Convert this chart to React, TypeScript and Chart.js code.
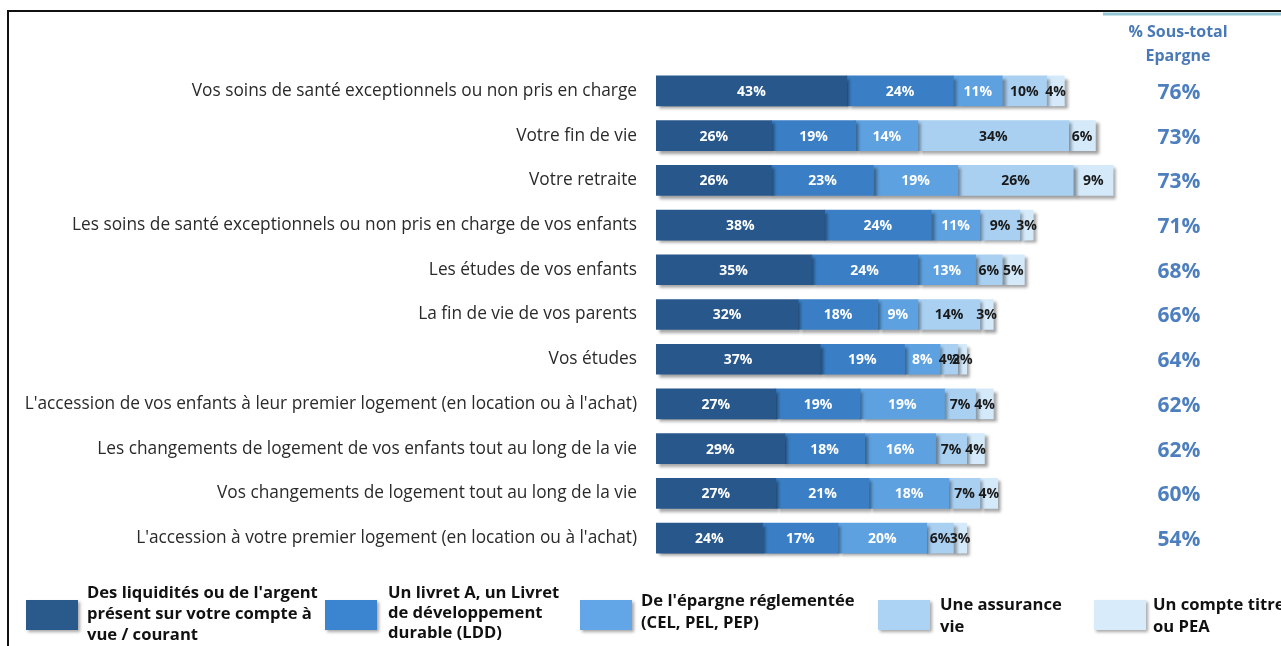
import React, { useEffect, useRef } from "react";
import { Chart, registerables } from "chart.js";

Chart.register(...registerables);

const categories = [
  "Vos soins de santé exceptionnels ou non pris en charge",
  "Votre fin de vie",
  "Votre retraite",
  "Les soins de santé exceptionnels ou non pris en charge de vos enfants",
  "Les études de vos enfants",
  "La fin de vie de vos parents",
  "Vos études",
  "L'accession de vos enfants à leur premier logement (en location ou à l'achat)",
  "Les changements de logement de vos enfants tout au long de la vie",
  "Vos changements de logement tout au long de la vie",
  "L'accession à votre premier logement (en location ou à l'achat)",
];

const liquidites = [43, 26, 26, 38, 35, 32, 37, 27, 29, 27, 24];
const livretA = [24, 19, 23, 24, 24, 18, 19, 19, 18, 21, 17];
const epargneReglementee = [11, 14, 19, 11, 13, 9, 8, 19, 16, 18, 20];
const assuranceVie = [10, 34, 26, 9, 6, 14, 4, 7, 7, 7, 6];
const compteTitre = [4, 6, 9, 3, 5, 3, 2, 4, 4, 4, 3];
const sousTotal = [76, 73, 73, 71, 68, 66, 64, 62, 62, 60, 54];

const headerLines = ["% Sous-total", "Epargne"];

const legendLabels = [
  ["Des liquidités ou de l'argent", "présent sur votre compte à", "vue / courant"],
  ["Un livret A, un Livret", "de développement", "durable (LDD)"],
  ["De l'épargne réglementée", "(CEL, PEL, PEP)"],
  ["Une assurance", "vie"],
  ["Un compte titre", "ou PEA"],
];

const seriesValues = [liquidites, livretA, epargneReglementee, assuranceVie, compteTitre];
const colors = ["#27578b", "#3a7fc6", "#5da1e0", "#a9cff1", "#d4e9fa"];
const legendColors = ["#2a5a8c", "#3b84cf", "#62a6e8", "#add3f4", "#d8ebfb"];
const labelColors = ["#ffffff", "#ffffff", "#ffffff", "#1a1a1a", "#1a1a1a"];

const FONT = "'Open Sans', Lato, sans-serif";

export default function App() {
  const ref = useRef<HTMLCanvasElement | null>(null);

  useEffect(() => {
    if (!ref.current) return;

    const decor = {
      id: "decor",
      beforeDatasetsDraw(chart: any) {
        const ctx = chart.ctx;
        ctx.save();
        ctx.shadowColor = "rgba(0,0,0,0.38)";
        ctx.shadowOffsetX = 3;
        ctx.shadowOffsetY = 3;
        ctx.shadowBlur = 3;
      },
      afterDatasetsDraw(chart: any) {
        const ctx = chart.ctx;
        ctx.restore();
        ctx.save();
        ctx.font = `bold 14px ${FONT}`;
        ctx.textAlign = "center";
        ctx.textBaseline = "middle";
        chart.data.datasets.forEach((ds: any, di: number) => {
          const meta = chart.getDatasetMeta(di);
          meta.data.forEach((el: any, i: number) => {
            const v = ds.data[i];
            const cx = (el.x + el.base) / 2;
            ctx.fillStyle = labelColors[di];
            ctx.fillText(`${v}%`, cx, el.y + 1);
          });
        });
        ctx.restore();
      },
      afterDraw(chart: any) {
        const ctx = chart.ctx;
        const yScale = chart.scales.y;
        ctx.save();
        // frame
        ctx.strokeStyle = "#111";
        ctx.lineWidth = 2;
        ctx.beginPath();
        ctx.moveTo(8, 646);
        ctx.lineTo(8, 11);
        ctx.lineTo(1281, 11);
        ctx.stroke();
        ctx.strokeStyle = "#93c6d3";
        ctx.lineWidth = 3;
        ctx.beginPath();
        ctx.moveTo(1103, 14);
        ctx.lineTo(1281, 14);
        ctx.stroke();
        // header
        ctx.fillStyle = "#4a7ab5";
        ctx.font = `bold 16px ${FONT}`;
        ctx.textAlign = "center";
        ctx.textBaseline = "middle";
        ctx.fillText(headerLines[0], 1178, 32);
        ctx.fillText(headerLines[1], 1178, 56);
        // sous-total values
        ctx.fillStyle = "#4d7fbf";
        ctx.font = `bold 21px ${FONT}`;
        sousTotal.forEach((v, i) => {
          ctx.fillText(`${v}%`, 1179, yScale.getPixelForValue(i) + 2);
        });
        // legend
        const sqX = [26, 325, 580, 878, 1094];
        const txX = [87, 388, 641, 940, 1153];
        const lineY: number[][] = [
          [593, 614, 635],
          [593, 613, 633],
          [601, 623],
          [605, 627],
          [605, 627],
        ];
        legendLabels.forEach((lines, k) => {
          ctx.save();
          ctx.shadowColor = "rgba(0,0,0,0.35)";
          ctx.shadowOffsetX = 2;
          ctx.shadowOffsetY = 2;
          ctx.shadowBlur = 3;
          ctx.fillStyle = legendColors[k];
          ctx.fillRect(sqX[k], 600, 52, 30);
          ctx.restore();
          ctx.fillStyle = "#111";
          ctx.font = `bold 16.6px ${FONT}`;
          ctx.textAlign = "left";
          ctx.textBaseline = "middle";
          lines.forEach((t, j) => ctx.fillText(t, txX[k], lineY[k][j]));
        });
        ctx.restore();
      },
    };

    const chart = new Chart(ref.current, {
      type: "bar",
      data: {
        labels: categories,
        datasets: seriesValues.map((vals, k) => ({
          label: legendLabels[k].join(" "),
          data: vals,
          backgroundColor: colors[k],
          borderWidth: 0,
          barThickness: 30,
        })),
      },
      options: {
        indexAxis: "y",
        animation: false,
        responsive: false,
        devicePixelRatio: 1,
        layout: { padding: { left: 0, right: 48, top: 68.6, bottom: 85.6 } },
        plugins: {
          legend: { display: false },
          tooltip: { enabled: false },
          title: { display: false },
        },
        scales: {
          x: {
            stacked: true,
            min: 0,
            max: 130,
            display: false,
          },
          y: {
            stacked: true,
            grid: { display: false, drawTicks: false },
            border: { display: false },
            ticks: {
              color: "#2a2a2a",
              font: { family: FONT, size: 17.3 },
              padding: 19,
              autoSkip: false,
            },
            afterFit(scale: any) {
              scale.width = 656;
            },
          },
        },
      },
      plugins: [decor],
    });
    return () => chart.destroy();
  }, []);

  return (
    <div style={{ position: "fixed", left: 0, top: 0, width: 1281, height: 646, background: "#fff" }}>
      <canvas ref={ref} width={1281} height={646} style={{ display: "block" }} />
    </div>
  );
}
